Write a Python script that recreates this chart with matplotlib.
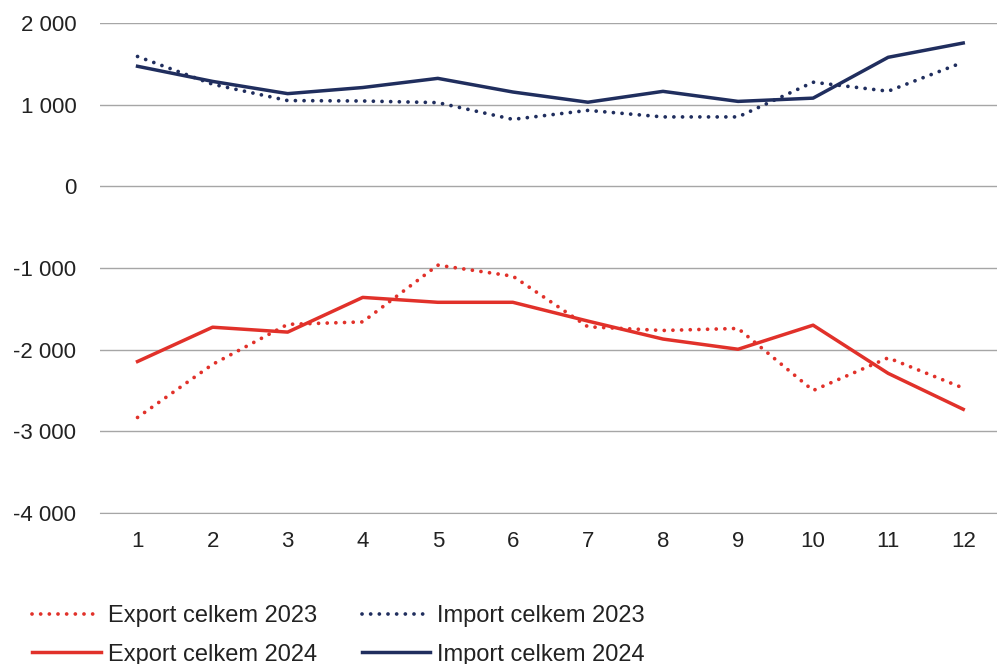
import matplotlib.pyplot as plt
from matplotlib.ticker import FuncFormatter

plt.rcParams["font.family"] = ["Liberation Sans", "DejaVu Sans"]

# Monthly values
months = list(range(1, 13))
export_2023 = [-2830, -2180, -1690, -1660, -965, -1100, -1720, -1765, -1740, -2500, -2100, -2470]
export_2024 = [-2145, -1725, -1785, -1360, -1420, -1420, -1650, -1870, -1995, -1700, -2290, -2730]
import_2023 = [1590, 1250, 1050, 1045, 1025, 820, 930, 850, 850, 1275, 1165, 1520]
import_2024 = [1470, 1285, 1135, 1210, 1322, 1155, 1030, 1163, 1040, 1080, 1580, 1755]

red = "#E1312A"
navy = "#202E5E"
grid = "#A6A6A6"

fig = plt.figure(figsize=(9.97, 6.64), dpi=100)
ax = fig.add_axes([100 / 997, 1 - 513 / 664, 1 - 100 / 997, (513 - 23) / 664])

dot = (0, (0.01, 2.3))
l1, = ax.plot(months, export_2023, color=red, lw=2.7, ls=dot, dash_capstyle="round", label="Export celkem 2023")
l2, = ax.plot(months, export_2024, color=red, lw=2.5, label="Export celkem 2024")
l3, = ax.plot(months, import_2023, color=navy, lw=2.7, ls=dot, dash_capstyle="round", label="Import celkem 2023")
l4, = ax.plot(months, import_2024, color=navy, lw=2.5, label="Import celkem 2024")

ax.set_ylim(-4000, 2000)
ax.set_xlim(0.5, 12.45)
ax.set_yticks(range(-4000, 2001, 1000))
ax.set_xticks(months)
ax.yaxis.set_major_formatter(FuncFormatter(lambda v, p: f"{int(v):,}".replace(",", " ")))
ax.grid(axis="y", color=grid, lw=1)
ax.set_axisbelow(True)
for s in ["top", "right", "left"]:
    ax.spines[s].set_visible(False)
ax.spines["bottom"].set_color(grid)
ax.tick_params(axis="both", length=0, labelsize=16, colors="#222222")
ax.tick_params(axis="y", pad=17)
ax.tick_params(axis="x", pad=13)

fig.legend([l1, l2, l3, l4], [h.get_label() for h in [l1, l2, l3, l4]],
           ncol=2, loc="lower left", bbox_to_anchor=(0.011, -0.0345), frameon=False,
           fontsize=17, handlelength=2.9, handletextpad=0.3, columnspacing=1.9,
           labelspacing=0.7, labelcolor="#222222")

plt.savefig("out.png", dpi=100)
